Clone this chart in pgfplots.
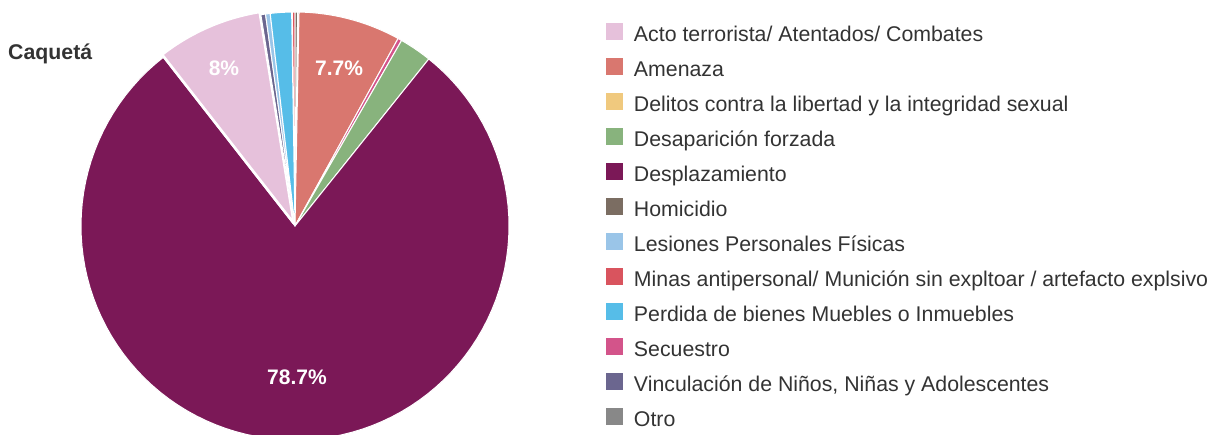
\documentclass[border=0pt]{standalone}
\usepackage{pgfplots}
\pgfplotsset{compat=1.18}
\usepackage{fontspec}
\setmainfont{Liberation Sans}
\definecolor{cActo}{HTML}{E6C1DB}
\definecolor{cAmen}{HTML}{D9776F}
\definecolor{cDeli}{HTML}{F0C97E}
\definecolor{cDesa}{HTML}{88B37D}
\definecolor{cDesp}{HTML}{7B1857}
\definecolor{cHomi}{HTML}{7B6D62}
\definecolor{cLesi}{HTML}{9AC5E8}
\definecolor{cMina}{HTML}{D9545E}
\definecolor{cPerd}{HTML}{56BDE8}
\definecolor{cSecu}{HTML}{D3548A}
\definecolor{cVinc}{HTML}{6B668F}
\definecolor{cOtro}{HTML}{888888}
\definecolor{txt}{HTML}{333333}
% cumulative angle (degrees, clockwise from top)
\gdef\cum{-0.9}
\newcommand{\slice}[5]{%
  \pgfmathsetmacro\sa{\cum}%
  \pgfmathsetmacro\sb{\cum+3.6*#1}%
  \xdef\cum{\sb}%
  \edef\doslice{\noexpand\addplot[forget plot, fill=#2, draw=white, line width=#5, line join=round, domain=\sa:\sb, samples=100] ({sin(x)+#3},{cos(x)+#4}) -- (axis cs:#3,#4) -- cycle;}%
  \doslice
}
\begin{document}
\begin{tikzpicture}
\useasboundingbox (0,0) rectangle (1211pt,-435pt);
\node[anchor=base west, text=txt, font=\fontsize{21.3}{24}\selectfont\bfseries, inner sep=0pt] at (8pt,-60pt) {Caquetá};
\begin{axis}[
  at={(295pt,-226pt)}, anchor=center,
  scale only axis, width=428pt, height=428pt,
  xmin=-1, xmax=1, ymin=-1, ymax=1,
  hide axis, clip=false,
  legend image code/.code={\fill[#1, draw=none] (0pt,-3.4pt) rectangle (17pt,13.4pt);},
  legend cell align=left,
  legend style={at={(1.2266,0.9743)}, anchor=north west, draw=none, fill=none,
    inner sep=0pt, outer sep=0pt, row sep=11.6pt,
    font=\fontsize{21.3}{24}\selectfont, text=txt,
    nodes={inner sep=0pt, outer sep=0pt, text height=15pt, text depth=5pt},
    /tikz/every odd column/.append style={column sep=11pt}},
]
% percent, colour, offset x, offset y, border (clockwise order from the top)
\slice{0.05}{cDeli}{0}{0}{1pt}
\slice{0.2}{cMina}{0}{0}{1pt}
\slice{0.2}{cHomi}{0}{0}{1pt}
\slice{0.1}{cOtro}{0}{0}{1pt}
\slice{7.7}{cAmen}{0}{0}{1pt}
\slice{0.3}{cSecu}{0}{0}{1pt}
\slice{2.45}{cDesa}{0}{0}{1pt}
\slice{78.7}{cDesp}{0}{0}{1pt}
\slice{8.0}{cActo}{-0.0056}{0.0129}{2.6pt}
\slice{0.35}{cVinc}{0}{0}{1pt}
\slice{0.35}{cLesi}{0}{0}{1pt}
\slice{1.6}{cPerd}{0}{0}{1pt}
\node[text=white, font=\fontsize{21}{24}\selectfont\bfseries] at (axis cs:0.009,-0.706) {78.7\%};
\node[text=white, font=\fontsize{21}{24}\selectfont\bfseries] at (axis cs:-0.332,0.736) {8\%};
\node[text=white, font=\fontsize{21}{24}\selectfont\bfseries] at (axis cs:0.206,0.736) {7.7\%};
\addlegendimage{fill=cActo}\addlegendentry{Acto terrorista/ Atentados/ Combates}
\addlegendimage{fill=cAmen}\addlegendentry{Amenaza}
\addlegendimage{fill=cDeli}\addlegendentry{Delitos contra la libertad y la integridad sexual}
\addlegendimage{fill=cDesa}\addlegendentry{Desaparición forzada}
\addlegendimage{fill=cDesp}\addlegendentry{Desplazamiento}
\addlegendimage{fill=cHomi}\addlegendentry{Homicidio}
\addlegendimage{fill=cLesi}\addlegendentry{Lesiones Personales Físicas}
\addlegendimage{fill=cMina}\addlegendentry{Minas antipersonal/ Munición sin expltoar / artefacto explsivo}
\addlegendimage{fill=cPerd}\addlegendentry{Perdida de bienes Muebles o Inmuebles}
\addlegendimage{fill=cSecu}\addlegendentry{Secuestro}
\addlegendimage{fill=cVinc}\addlegendentry{Vinculación de Niños, Niñas y Adolescentes}
\addlegendimage{fill=cOtro}\addlegendentry{Otro}
\end{axis}
\end{tikzpicture}
\end{document}
